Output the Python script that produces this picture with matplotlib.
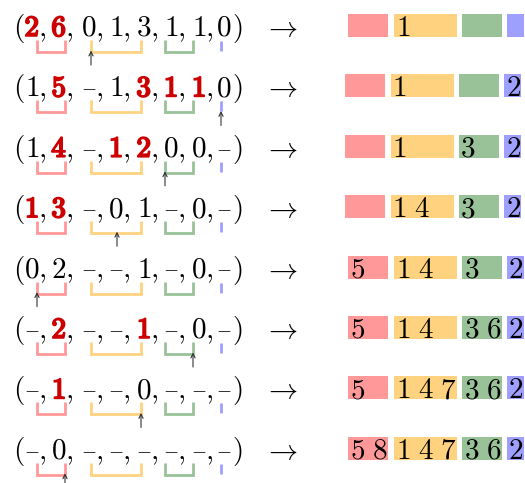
import matplotlib.pyplot as plt
import matplotlib.patheffects as pe
from matplotlib.patches import Rectangle

plt.rcParams['mathtext.fontset'] = 'cm'

# Estado de cada linha: tupla (None = tracinho), posicoes em negrito,
# posicao da seta e conteudo das quatro caixas da direita
tuples = [
    [2, 6, 0, 1, 3, 1, 1, 0],
    [1, 5, None, 1, 3, 1, 1, 0],
    [1, 4, None, 1, 2, 0, 0, None],
    [1, 3, None, 0, 1, None, 0, None],
    [0, 2, None, None, 1, None, 0, None],
    [None, 2, None, None, 1, None, 0, None],
    [None, 1, None, None, 0, None, None, None],
    [None, 0, None, None, None, None, None, None],
]
bold = [[0, 1], [1, 4, 5, 6], [1, 3, 4], [0, 1], [], [1, 4], [1], []]
pointer = [2, 7, 5, 3, 0, 6, 4, 1]

red_box = [[], [], [], [], [5], [5], [5], [5, 8]]
yellow_box = [[1], [1], [1], [1, 4], [1, 4], [1, 4], [1, 4, 7], [1, 4, 7]]
green_box = [[], [], [3], [3], [3], [3, 6], [3, 6], [3, 6]]
blue_box = [[], [2], [2], [2], [2], [2], [2], [2]]

# grupos da tupla (inicio, fim) e cores
groups = [(0, 1), (2, 4), (5, 6), (7, 7)]
colors = ['#ff9999', '#ffd280', '#99c299', '#9f9fff']
dark_red = '#cc0000'

# layout em pixels
W, H = 525, 483
elem_x = [32, 59, 89, 116, 144, 171, 199, 224]
anchor_x = [37, 65, 91, 117, 141, 165, 193, 221]
base0, step = 36, 60.4
box_left = [348, 394, 462, 507]
box_w = [40, 63, 40, 17]
fs = 21

fig = plt.figure(figsize=(W / 100, H / 100), dpi=100)
ax = fig.add_axes([0, 0, 1, 1])
ax.set_xlim(0, W)
ax.set_ylim(H, 0)
ax.axis('off')

boxes = [red_box, yellow_box, green_box, blue_box]
thick = [pe.withStroke(linewidth=1.3, foreground=dark_red)]

for r, tup in enumerate(tuples):
    b = base0 + r * step

    # tupla
    ax.text(18.5, b, r'$($', fontsize=fs, ha='center', va='baseline')
    ax.text(237, b, r'$)$', fontsize=fs, ha='center', va='baseline')
    for i, v in enumerate(tup):
        if v is None:
            ax.text(elem_x[i], b - 4, r'$-$', fontsize=14, ha='center', va='baseline')
        elif i in bold[r]:
            ax.text(elem_x[i], b, r'$%d$' % v, fontsize=fs, ha='center',
                    va='baseline', color=dark_red, path_effects=thick)
        else:
            ax.text(elem_x[i], b, r'$%d$' % v, fontsize=fs, ha='center', va='baseline')
        if i < len(tup) - 1:
            ax.text(elem_x[i] + 10, b, r'$,$', fontsize=fs, ha='center', va='baseline')

    # colchetes dos grupos
    for (g0, g1), c in zip(groups, colors):
        x0, x1 = anchor_x[g0], anchor_x[g1]
        if g0 == g1:
            ax.plot([x0, x0], [b + 5, b + 15], color=c, lw=2.0, solid_capstyle='butt')
        else:
            ax.plot([x0, x0, x1, x1], [b + 4, b + 16, b + 16, b + 4], color=c, lw=2.0,
                    solid_capstyle='butt', solid_joinstyle='miter')

    # seta do ponteiro
    px = anchor_x[pointer[r]]
    ax.annotate('', xy=(px, b + 14.5), xytext=(px, b + 29),
                arrowprops=dict(arrowstyle='->,head_length=0.3,head_width=0.15',
                                color='#333333', lw=0.8, shrinkA=0, shrinkB=0))

    ax.text(280, b, r'$\rightarrow$', fontsize=fs, ha='center', va='baseline')

    # caixas da direita
    shift = -3 if r in (1, 2, 3) else 0
    for k, box in enumerate(boxes):
        left = box_left[k] + shift
        ax.add_patch(Rectangle((left, b - 22), box_w[k], 23, color=colors[k], lw=0))
        for j, d in enumerate(box[r]):
            ax.text(left + 1.5 + j * 22, b, r'$%d$' % d, fontsize=fs, ha='left',
                    va='baseline')

fig.savefig('out.png', dpi=100)
